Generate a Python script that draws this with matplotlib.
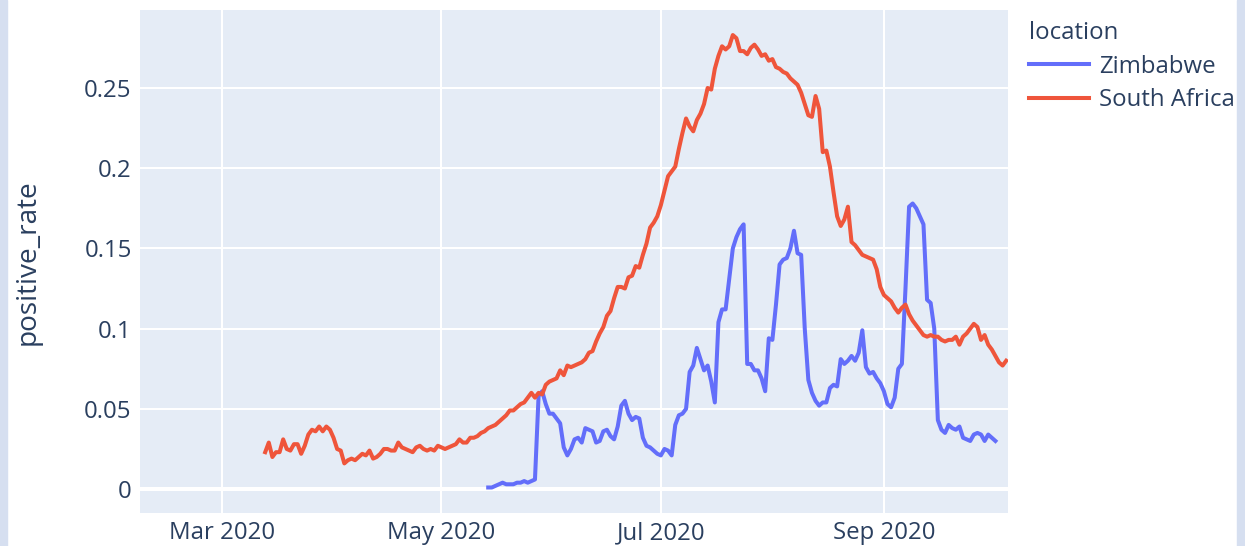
import numpy as np
import pandas as pd
import matplotlib
matplotlib.use("Agg")
import matplotlib.pyplot as plt
import matplotlib.dates as mdates
from matplotlib.patches import Rectangle

plt.rcParams["font.family"] = ["Open Sans", "DejaVu Sans"]

# daily positive rate, South Africa from 2020-03-13, Zimbabwe from 2020-05-14
sa_start = "2020-03-13"
sa_rate = [
    0.023, 0.029, 0.020, 0.023, 0.023, 0.031, 0.025, 0.024, 0.028, 0.028,
    0.022, 0.027, 0.034, 0.037, 0.036, 0.039, 0.036, 0.039, 0.037, 0.032,
    0.025, 0.024, 0.016, 0.018, 0.019, 0.018, 0.020, 0.022, 0.021, 0.024,
    0.019, 0.020, 0.022, 0.025, 0.025, 0.024, 0.024, 0.029, 0.026, 0.025,
    0.024, 0.023, 0.026, 0.027, 0.025, 0.024, 0.025, 0.024, 0.027, 0.026,
    0.025, 0.026, 0.027, 0.028, 0.031, 0.029, 0.029, 0.032, 0.032, 0.033,
    0.035, 0.036, 0.038, 0.039, 0.040, 0.042, 0.044, 0.046, 0.049, 0.049,
    0.051, 0.053, 0.054, 0.057, 0.060, 0.057, 0.060, 0.059, 0.065, 0.067,
    0.068, 0.069, 0.074, 0.071, 0.077, 0.076, 0.077, 0.078, 0.079, 0.081,
    0.085, 0.086, 0.092, 0.097, 0.101, 0.108, 0.111, 0.119, 0.126, 0.126,
    0.125, 0.132, 0.133, 0.139, 0.138, 0.146, 0.153, 0.163, 0.166, 0.170,
    0.177, 0.186, 0.195, 0.198, 0.201, 0.212, 0.222, 0.231, 0.226, 0.223,
    0.230, 0.234, 0.240, 0.250, 0.249, 0.262, 0.270, 0.276, 0.274, 0.276,
    0.283, 0.281, 0.273, 0.273, 0.271, 0.275, 0.277, 0.274, 0.270, 0.271,
    0.267, 0.268, 0.263, 0.262, 0.260, 0.259, 0.256, 0.254, 0.252, 0.247,
    0.240, 0.233, 0.232, 0.245, 0.237, 0.210, 0.211, 0.201, 0.185, 0.170,
    0.164, 0.168, 0.176, 0.154, 0.152, 0.149, 0.146, 0.145, 0.144, 0.143,
    0.137, 0.126, 0.121, 0.119, 0.117, 0.113, 0.110, 0.113, 0.115, 0.109,
    0.105, 0.102, 0.099, 0.096, 0.095, 0.096, 0.095, 0.095, 0.093, 0.092,
    0.093, 0.093, 0.095, 0.090, 0.095, 0.097, 0.100, 0.103, 0.101, 0.093,
    0.096, 0.090, 0.087, 0.083, 0.079, 0.077, 0.080,
]

zw_start = "2020-05-14"
zw_rate = [
    0.001, 0.001, 0.002, 0.003, 0.004, 0.003, 0.003, 0.003, 0.004, 0.004,
    0.005, 0.004, 0.005, 0.006,
    0.058, 0.061, 0.053, 0.047, 0.047, 0.044, 0.041, 0.026, 0.021, 0.025,
    0.031, 0.032, 0.029,
    0.038, 0.037, 0.036, 0.029, 0.030, 0.036, 0.037, 0.033, 0.031, 0.039,
    0.052, 0.055, 0.047, 0.043, 0.045, 0.044, 0.032, 0.027, 0.026, 0.024,
    0.022, 0.021, 0.025, 0.024, 0.021, 0.040, 0.046, 0.047, 0.050, 0.073,
    0.077, 0.088, 0.081, 0.074, 0.077, 0.067, 0.054, 0.104, 0.112, 0.112,
    0.131, 0.150, 0.157, 0.162, 0.165, 0.078, 0.078, 0.074, 0.074, 0.069,
    0.061, 0.094, 0.093, 0.115, 0.140, 0.143, 0.144, 0.150, 0.161, 0.147,
    0.146, 0.100, 0.068, 0.060, 0.055, 0.052, 0.054, 0.054, 0.063, 0.065,
    0.064, 0.081, 0.078, 0.080, 0.083, 0.080, 0.085, 0.099, 0.076, 0.072,
    0.073, 0.069, 0.066, 0.061, 0.053, 0.051, 0.057, 0.075, 0.078, 0.125,
    0.176, 0.178, 0.175, 0.170, 0.165, 0.118, 0.116, 0.100, 0.043, 0.037,
    0.035, 0.040, 0.038, 0.037, 0.039, 0.032, 0.031, 0.030, 0.034, 0.035,
    0.034, 0.030, 0.034, 0.032, 0.030,
]

locations = ["Zimbabwe", "South Africa"]
colors = ["#636EFA", "#EF553B"]
tick_months = [3, 5, 7, 9]
yticks = [0, 0.05, 0.1, 0.15, 0.2, 0.25]
ytick_labels = ["0", "0.05", "0.1", "0.15", "0.2", "0.25"]

sa_dates = pd.date_range(sa_start, periods=len(sa_rate), freq="D")
zw_dates = pd.date_range(zw_start, periods=len(zw_rate), freq="D")

W, H = 1245, 546
txt = "#2a3f5f"
fs = 17.3

fig = plt.figure(figsize=(W / 100, H / 100), dpi=100)
fig.patch.set_facecolor("white")
# lavender frame strips of the screenshot
fig.patches.append(Rectangle((0, 0), 7 / W, 1, transform=fig.transFigure,
                             color="#d6dff0", zorder=0))
fig.patches.append(Rectangle((1237 / W, 0), 8 / W, 1, transform=fig.transFigure,
                             color="#d6dff0", zorder=0))

ax = fig.add_axes([140 / W, 1 - 513 / H, 868 / W, 503 / H])
ax.set_facecolor("#E5ECF6")
for s in ax.spines.values():
    s.set_visible(False)

ax.plot(zw_dates, zw_rate, color=colors[0], lw=2.9, label=locations[0],
        solid_joinstyle="round", zorder=3)
ax.plot(sa_dates, sa_rate, color=colors[1], lw=2.9, label=locations[1],
        solid_joinstyle="round", zorder=3)

x0 = pd.Timestamp("2020-03-01")
ax.set_xlim(x0 - pd.Timedelta(days=22.8), x0 + pd.Timedelta(days=218.5))
ax.set_ylim(-0.0149, 0.2986)

ax.xaxis.set_major_locator(mdates.MonthLocator(bymonth=tick_months))
ax.xaxis.set_major_formatter(mdates.DateFormatter("%b %Y"))
ax.set_yticks(yticks)
ax.set_yticklabels(ytick_labels)
ax.tick_params(length=0, labelsize=fs, colors=txt, pad=6)
ax.grid(True, color="white", lw=1.45, zorder=1)
ax.set_axisbelow(True)
ax.axhline(0, color="white", lw=2.9, zorder=2)

fig.text(28 / W, 1 - 262 / H, "positive_rate", rotation=90, ha="center",
         va="center", fontsize=20.2, color=txt)

leg = ax.legend(loc="upper left", bbox_to_anchor=(1029 / W, 1 - 21 / H),
                bbox_transform=fig.transFigure, frameon=False, borderpad=0,
                borderaxespad=0, title="location", alignment="left",
                handlelength=2.5, handletextpad=0.4, labelspacing=0.4,
                fontsize=fs, title_fontsize=fs)
for t in leg.get_texts():
    t.set_color(txt)
leg.get_title().set_color(txt)

fig.savefig("out.png", dpi=100)
